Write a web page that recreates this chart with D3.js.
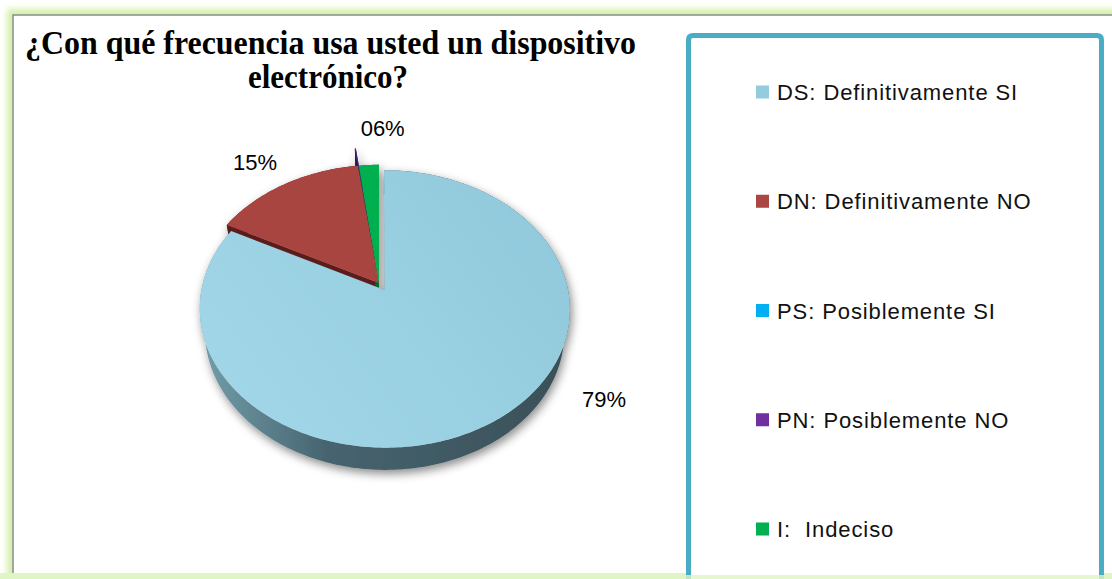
<!DOCTYPE html>
<html>
<head>
<meta charset="utf-8">
<script src="https://cdn.jsdelivr.net/npm/d3@7"></script>
<style>
  html, body { margin: 0; padding: 0; background: #fff; }
  svg { display: block; }
  .legend-text { white-space: pre; }
</style>
</head>
<body>
<svg id="chart" width="1112" height="579"></svg>
<script>
// Data
const categories = ["DS: Definitivamente SI", "DN: Definitivamente NO", "PS: Posiblemente SI", "PN: Posiblemente NO", "I:  Indeciso"];
const shares = [82.6, 15.3, 0, 0.1, 2.0];          // slice sizes as drawn
const labelText = ["79%", "15%", null, null, "06%"]; // labels as printed
const topColors = ["#94cddf", "#a9443f", "#00b0f0", "#4b2a7a", "#00b050"];
const sideColors = ["#45626b", "#5c1f1d", "#00709a", "#2a1547", "#006b31"];
const legendColors = ["#93cddd", "#aa4643", "#00b0f0", "#7030a0", "#00b050"];
const titleLines = ["¿Con qué frecuencia usa usted un dispositivo", "electrónico?"];

// layout
const explode = [0.06, 0, 0, 0.17, 0];
const labelAngle = [125, 323, 0, 0, 1];
const labelRadius = [1.35, 1.29, 0, 0, 1.37];

const svg = d3.select("#chart");
const defs = svg.append("defs");

// outer frame glow
const glow = defs.append("filter").attr("id", "glow")
    .attr("x", "-5%").attr("y", "-5%").attr("width", "110%").attr("height", "110%");
glow.append("feGaussianBlur").attr("stdDeviation", 3);

svg.append("rect")
    .attr("x", 13).attr("y", 15).attr("width", 1140).attr("height", 561)
    .attr("fill", "none").attr("stroke", "#d3efa8").attr("stroke-width", 12)
    .attr("filter", "url(#glow)");
svg.append("rect")
    .attr("x", 13).attr("y", 15).attr("width", 1140).attr("height", 561)
    .attr("fill", "none").attr("stroke", "#d9f2b6").attr("stroke-width", 5);
svg.append("rect")
    .attr("x", 13).attr("y", 15).attr("width", 1140).attr("height", 620)
    .attr("fill", "#fff").attr("stroke", "#8a8a8a").attr("stroke-width", 1.5);
svg.append("rect")
    .attr("x", 0).attr("y", 573).attr("width", 1112).attr("height", 6)
    .attr("fill", "#e0f5c4");

// title
const titleG = svg.append("g")
    .attr("font-family", "'Liberation Serif', 'Times New Roman', serif")
    .attr("font-weight", "bold")
    .attr("font-size", 34)
    .attr("fill", "#000");
titleG.append("text").attr("x", 25).attr("y", 54)
    .attr("textLength", 611).attr("lengthAdjust", "spacingAndGlyphs")
    .text(titleLines[0]);
titleG.append("text").attr("x", 248).attr("y", 88)
    .attr("textLength", 160).attr("lengthAdjust", "spacingAndGlyphs")
    .text(titleLines[1]);

// 3D pie projection
const cx = 379, cy = 283;
const phi = 47.5 * Math.PI / 180;
const sn = Math.sin(phi), cs = Math.cos(phi);
const D = 4.97, F = 905, H = 0.2;

function proj(theta, r, yw, off) {
    const X = r * Math.sin(theta) + off[0];
    const Z = -r * Math.cos(theta) + off[1];
    const depth = D - yw * sn - Z * cs;
    return [cx + F * X / depth, cy - F * (yw * cs - Z * sn) / depth];
}

const pie = d3.pie().sort(null).value(d => d);
const arcs = pie(shares).map((a, i) => {
    const mid = (a.startAngle + a.endAngle) / 2;
    const off = [explode[i] * Math.sin(mid), -explode[i] * Math.cos(mid)];
    return {...a, i, off};
});

function rim(a, yw, reverse) {
    const n = Math.max(2, Math.ceil((a.endAngle - a.startAngle) / (Math.PI / 180)));
    const pts = d3.range(n + 1).map(k => proj(a.startAngle + (a.endAngle - a.startAngle) * k / n, 1, yw, a.off));
    return reverse ? pts.reverse() : pts;
}

const line = d3.line();

// side wall gradient for the big slice
const sideGrad = defs.append("linearGradient").attr("id", "sideDS")
    .attr("gradientUnits", "userSpaceOnUse")
    .attr("x1", 190).attr("x2", 580).attr("y1", 0).attr("y2", 0);
sideGrad.append("stop").attr("offset", "0%").attr("stop-color", "#76a3ae");
sideGrad.append("stop").attr("offset", "35%").attr("stop-color", "#466470");
sideGrad.append("stop").attr("offset", "100%").attr("stop-color", "#3a4e56");

const topGrad = defs.append("linearGradient").attr("id", "topDS")
    .attr("gradientUnits", "userSpaceOnUse")
    .attr("x1", 560).attr("y1", 180).attr("x2", 220).attr("y2", 440);
topGrad.append("stop").attr("offset", "0%").attr("stop-color", "#90c9db");
topGrad.append("stop").attr("offset", "100%").attr("stop-color", "#a2d7e9");

const shadow = defs.append("filter").attr("id", "pieShadow")
    .attr("x", "-20%").attr("y", "-20%").attr("width", "140%").attr("height", "140%");
shadow.append("feDropShadow").attr("dx", 2).attr("dy", 4)
    .attr("stdDeviation", 5).attr("flood-color", "#000").attr("flood-opacity", 0.45);

const pieG = svg.append("g").attr("filter", "url(#pieShadow)");
const visible = arcs.filter(a => a.endAngle > a.startAngle);

// walls: outer curved side and radial sides
visible.forEach(a => {
    const fill = a.i === 0 ? "url(#sideDS)" : sideColors[a.i];
    const outer = rim(a, 0, false).concat(rim(a, -H, true));
    pieG.append("path").attr("d", line(outer) + "Z").attr("fill", fill);
    [a.startAngle, a.endAngle].forEach(t => {
        const q = [proj(0, 0, 0, a.off), proj(t, 1, 0, a.off), proj(t, 1, -H, a.off), proj(0, 0, -H, a.off)];
        pieG.append("path").attr("d", line(q) + "Z").attr("fill", sideColors[a.i]);
    });
});

// tops
visible.forEach(a => {
    const pts = [proj(0, 0, 0, a.off)].concat(rim(a, 0, false));
    pieG.append("path").attr("d", line(pts) + "Z")
        .attr("fill", a.i === 0 ? "url(#topDS)" : topColors[a.i]);
});

// data labels
const labelG = svg.append("g")
    .attr("font-family", "'Liberation Sans', Arial, sans-serif")
    .attr("font-size", 22).attr("fill", "#000");
arcs.forEach((a, i) => {
    if (!labelText[i]) return;
    const p = proj(labelAngle[i] * Math.PI / 180, labelRadius[i], 0, [0, 0]);
    labelG.append("text").attr("x", p[0]).attr("y", p[1] + 8)
        .attr("text-anchor", "middle").text(labelText[i]);
});

// legend box
svg.append("path")
    .attr("d", "M688.5,600 L688.5,40 Q688.5,35.5 693,35.5 L1097,35.5 Q1101.5,35.5 1101.5,40 L1101.5,600")
    .attr("fill", "#fff").attr("stroke", "#4bacc6").attr("stroke-width", 5);
svg.append("rect").attr("x", 0).attr("y", 575).attr("width", 1112).attr("height", 4)
    .attr("fill", "#e0f5c4").attr("opacity", 0.8);

const legendY = d3.scalePoint().domain(categories).range([92, 529]);
const legendG = svg.append("g")
    .attr("font-family", "'Liberation Sans', Arial, sans-serif")
    .attr("font-size", 22).attr("fill", "#111");
categories.forEach((c, i) => {
    const y = legendY(c);
    legendG.append("rect").attr("x", 756).attr("y", y - 6.5).attr("width", 13).attr("height", 13)
        .attr("fill", legendColors[i]);
    legendG.append("text").attr("class", "legend-text")
        .attr("x", 777).attr("y", y + 8)
        .attr("letter-spacing", 0.9)
        .text(c);
});
</script>
</body>
</html>
